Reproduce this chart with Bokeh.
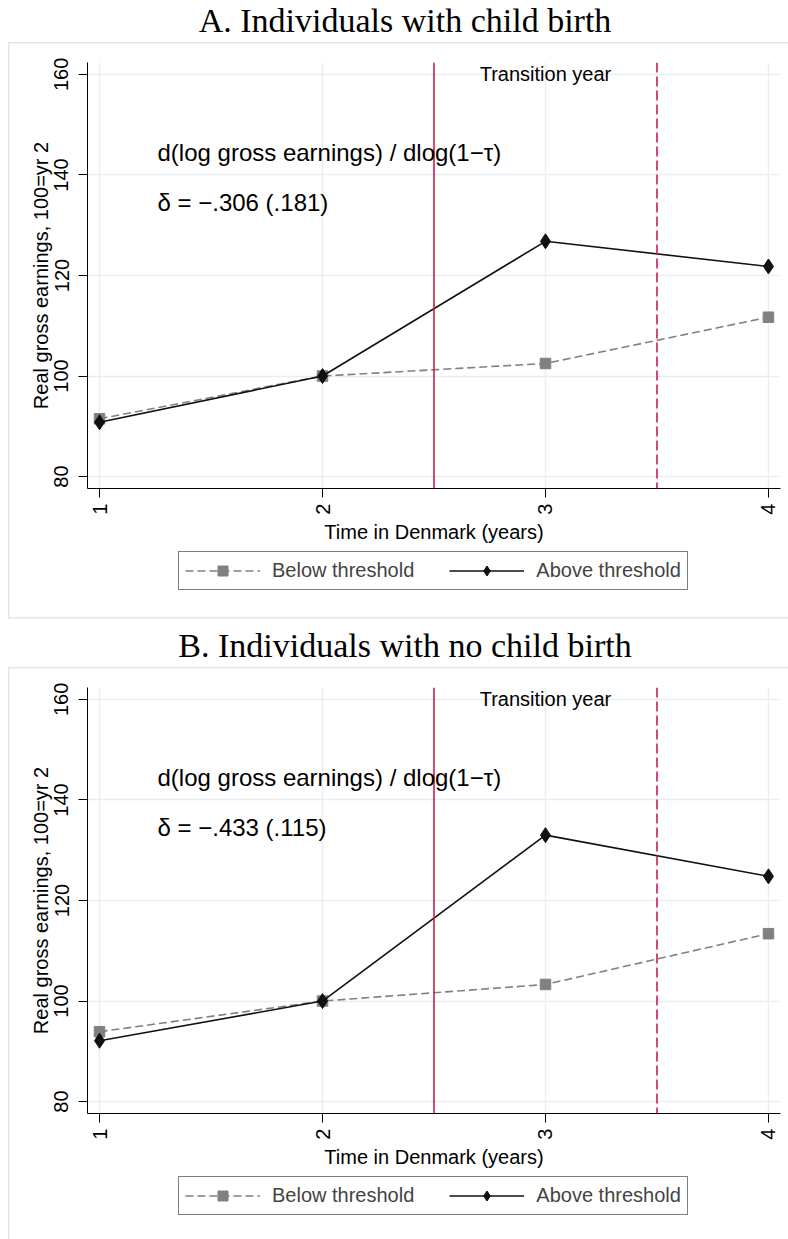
import math
from bokeh.plotting import figure
from bokeh.layouts import column
from bokeh.models import (FixedTicker, Span, Label, Legend, LegendItem, Range1d)
from bokeh.embed import file_html
from bokeh.resources import INLINE

# ---------------- data ----------------
years = [1, 2, 3, 4]
below_a = [91.5, 100, 102.5, 111.7]
above_a = [90.8, 100, 126.8, 121.8]
below_b = [93.9, 100, 103.3, 113.4]
above_b = [92.1, 100, 133.0, 124.8]
y_ticks = [80, 100, 120, 140, 160]
transition_lines = [2.5, 3.5]
panel_titles = ["A. Individuals with child birth",
                "B. Individuals with no child birth"]
delta_texts = ["δ = −.306 (.181)", "δ = −.433 (.115)"]
elasticity_text = "d(log gross earnings) / dlog(1−τ)"
transition_text = "Transition year"
series_names = ["Below threshold", "Above threshold"]

SANS = "Liberation Sans"
SERIF = "Liberation Serif"
GRID = "#e8eff2"
RED = "#d41c45"
GRAY = "#808080"
BLACK = "#111111"
BORDER = "#e0e7eb"
W = 788
LEFT = 87   # frame left edge (px)
RIGHT = 8   # space right of frame (px)


def css_lines(top=None, bottom=None, left_height="100%"):
    g = f"linear-gradient({BORDER}, {BORDER})"
    layers = []
    if top is not None:
        layers.append(f"{g} 8px {top}px / 780px 1.5px no-repeat")
    if bottom is not None:
        layers.append(f"{g} 8px {bottom}px / 780px 1.5px no-repeat")
    if left_height is not None:
        layers.append(f"{g} 8px 0px / 1.5px {left_height} no-repeat")
    return {"background": ", ".join(layers)} if layers else {}


def blank_fig(height, styles):
    p = figure(width=W, height=height,
               x_range=Range1d(LEFT, W - RIGHT), y_range=Range1d(0, height),
               output_backend="svg", toolbar_location=None, title=None,
               x_axis_location=None, y_axis_location=None,
               min_border_left=LEFT, min_border_right=RIGHT, min_border_top=0,
               min_border_bottom=0, styles=styles)
    p.outline_line_color = None
    p.grid.visible = False
    p.background_fill_alpha = 0
    p.border_fill_alpha = 0
    return p


def title_fig(text):
    p = blank_fig(42, {})
    p.add_layout(Label(x=404.5, y=22, text=text, text_align="center",
                       text_baseline="middle", text_font=SERIF,
                       text_font_size="34px", text_color="black"))
    return p


def add_series(p, below, above):
    rb_l = p.line(years, below, line_color=GRAY, line_width=1.6, line_dash="8 4")
    rb_m = p.scatter(years, below, marker="square", size=10.5,
                     fill_color=GRAY, line_color=GRAY)
    ra_l = p.line(years, above, line_color=BLACK, line_width=1.6)
    ra_m = p.scatter(years, above, marker="diamond", size=15,
                     fill_color=BLACK, line_color=BLACK)
    return rb_l, rb_m, ra_l, ra_m


def main_fig(below, above, delta):
    p = figure(width=W, height=503,
               x_range=Range1d(0.946, 4.054), y_range=Range1d(77.63, 162.37),
               output_backend="svg", toolbar_location=None, title=None,
               min_border_left=LEFT, min_border_right=RIGHT,
               min_border_top=20, min_border_bottom=55,
               styles=css_lines(top=0))
    p.outline_line_color = None
    p.background_fill_color = "white"
    p.border_fill_alpha = 0

    p.xaxis.ticker = FixedTicker(ticks=years)
    p.yaxis.ticker = FixedTicker(ticks=y_ticks)
    for ax in (p.xaxis[0], p.yaxis[0]):
        ax.axis_line_color = "black"
        ax.axis_line_width = 1
        ax.major_tick_line_color = "black"
        ax.major_tick_out = 9
        ax.major_tick_in = 0
        ax.minor_tick_out = 0
        ax.minor_tick_in = 0
        ax.major_label_text_font = SANS
        ax.major_label_text_font_size = "20px"
        ax.major_label_text_color = "black"
        ax.axis_label_text_font = SANS
        ax.axis_label_text_font_size = "20px"
        ax.axis_label_text_font_style = "normal"
        ax.axis_label_text_color = "black"
    p.xaxis.major_label_orientation = math.pi / 2
    p.yaxis.major_label_orientation = "vertical"
    p.xaxis.major_label_standoff = 6
    p.xaxis.axis_label_standoff = 3
    p.yaxis.major_label_standoff = 10
    p.yaxis.axis_label_standoff = 0
    p.xaxis.axis_label = "Time in Denmark (years)"
    p.yaxis.axis_label = "Real gross earnings, 100=yr 2"

    for g in (p.xgrid[0], p.ygrid[0]):
        g.grid_line_color = GRID
        g.grid_line_width = 1.5

    for i, loc in enumerate(transition_lines):
        p.add_layout(Span(location=loc, dimension="height", line_color=RED,
                          line_width=1.6, line_dash="solid" if i == 0 else "10 4"))

    add_series(p, below, above)

    p.add_layout(Label(x=3, y=160, text=transition_text, text_align="center",
                       text_baseline="middle", text_font=SANS, text_font_size="20px",
                       text_color="black"))
    p.add_layout(Label(x=1.26, y=144.5, text=elasticity_text, text_align="left",
                       text_baseline="middle", text_font=SANS, text_font_size="24px",
                       text_color="black"))
    p.add_layout(Label(x=1.26, y=134.6, text=delta, text_align="left",
                       text_baseline="middle", text_font=SANS, text_font_size="24px",
                       text_color="black"))
    return p


def legend_fig(below, above, height, legend_y, bottom_line):
    left_h = f"{bottom_line + 1}px" if bottom_line is not None else "100%"
    p = blank_fig(height, css_lines(bottom=bottom_line, left_height=left_h))
    # series drawn outside the visible range: only their legend glyphs show
    rb_l, rb_m, ra_l, ra_m = add_series(p, below, above)
    legend = Legend(items=[LegendItem(label=series_names[0], renderers=[rb_l, rb_m]),
                           LegendItem(label=series_names[1], renderers=[ra_l, ra_m])],
                    orientation="horizontal", location=(91, legend_y),
                    border_line_color="black", border_line_width=1,
                    background_fill_color="white", background_fill_alpha=1,
                    label_text_font=SANS, label_text_font_size="20px",
                    glyph_width=75, glyph_height=25, label_standoff=12,
                    spacing=35, padding=6, margin=0)
    p.add_layout(legend, "center")
    return p


layout = column(
    title_fig(panel_titles[0]),
    main_fig(below_a, above_a, delta_texts[0]),
    legend_fig(below_a, above_a, 80, 35, 72),
    title_fig(panel_titles[1]),
    main_fig(below_b, above_b, delta_texts[1]),
    legend_fig(below_b, above_b, 69, 24, None),
    spacing=0)

open("out.html", "w").write(file_html(layout, INLINE))
